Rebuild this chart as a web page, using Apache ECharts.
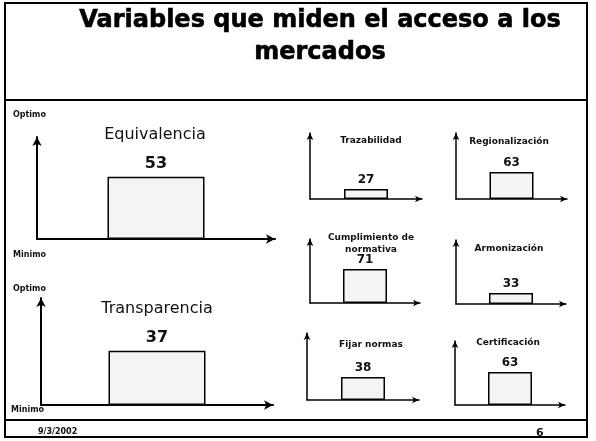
<!DOCTYPE html>
<html>
<head>
<meta charset="utf-8">
<script src="https://cdn.jsdelivr.net/npm/echarts@6/dist/echarts.min.js"></script>
<style>
html, body { margin: 0; background: #fff; }
#chart { width: 596px; height: 441px; }
</style>
</head>
<body>
<div id="chart"></div>
<script>
// Datos de la diapositiva
const categorias = ['Equivalencia', 'Transparencia', 'Trazabilidad', 'Regionalización',
  'Cumplimiento de\nnormativa', 'Armonización', 'Fijar normas', 'Certificación'];
const valores = [53, 37, 27, 63, 71, 33, 38, 63];
// escala de cada mini gráfico (no es la misma en todos)
const ejeMax = [87, 73, 178, 154, 134, 192, 111, 122];
const extremos = ['Optimo', 'Minimo'];
const titulo = 'Variables que miden el acceso a los\nmercados';
const fecha = '9/3/2002';
const pagina = '6';

// Cajas de cada gráfico: [x izq, y sup, x der, y inf]
const cajas = [
  [37, 137, 275, 239],
  [41, 298, 273, 405],
  [310, 133, 422, 199],
  [456, 133, 567, 199],
  [310, 239, 420, 303],
  [456, 240, 566, 304],
  [307, 333, 419, 400],
  [455, 341, 565, 405]
];
// posición de los títulos [x centro, y centro]
const posTitulos = [
  [155, 135], [157, 309],
  [371, 141], [509, 142],
  [371, 244], [509, 249],
  [371, 345], [508, 343]
];

const chart = echarts.init(document.getElementById('chart'));
const FUENTE = '"DejaVu Sans", Verdana, sans-serif';

const grids = [], xAxes = [], yAxes = [], series = [];
const graficos = [];

cajas.forEach((c, i) => {
  const grande = i < 2;
  const ancho = grande ? 2 : 1.5;
  grids.push({ left: c[0], top: c[1], width: c[2] - c[0], height: c[3] - c[1] });
  xAxes.push({
    type: 'category', gridIndex: i, data: [categorias[i]],
    axisLine: { lineStyle: { color: '#000', width: ancho }, symbol: ['none', 'arrow'], symbolSize: grande ? [7, 9] : [5, 7] },
    axisTick: { show: false }, axisLabel: { show: false }
  });
  yAxes.push({
    type: 'value', gridIndex: i, min: 0, max: ejeMax[i],
    axisLine: { show: true, lineStyle: { color: '#000', width: ancho }, symbol: ['none', 'arrow'], symbolSize: grande ? [7, 9] : [5, 7] },
    axisTick: { show: false }, axisLabel: { show: false }, splitLine: { show: false }
  });
  series.push({
    type: 'bar', xAxisIndex: i, yAxisIndex: i, data: [valores[i]],
    barWidth: grande ? 97 : 44,
    itemStyle: { color: '#f4f4f4', borderColor: '#000', borderWidth: 1.5 },
    label: {
      show: true, position: 'top', distance: grande ? 5 : 3,
      fontFamily: FUENTE, fontWeight: 'bold', fontSize: grande ? 16 : 12, color: '#111'
    }
  });
  graficos.push({
    type: 'text', x: posTitulos[i][0], y: posTitulos[i][1],
    style: {
      text: categorias[i], fontFamily: FUENTE,
      fontSize: grande ? 16 : 9, fontWeight: grande ? 'normal' : 'bold',
      lineHeight: grande ? 18 : 12,
      align: 'center', verticalAlign: 'middle', fill: '#111'
    }
  });
});

const textoPeq = (t, x, y) => ({
  type: 'text', x: x, y: y,
  style: { text: t, fontFamily: FUENTE, fontSize: 8, fontWeight: 'bold', fill: '#111', verticalAlign: 'middle' }
});

const option = {
  animation: false,
  backgroundColor: '#fff',
  grid: grids,
  xAxis: xAxes,
  yAxis: yAxes,
  series: series,
  graphic: [
    // marco de la diapositiva
    { type: 'rect', shape: { x: 5, y: 3, width: 582, height: 434 }, style: { fill: 'none', stroke: '#000', lineWidth: 2 } },
    { type: 'line', shape: { x1: 5, y1: 100, x2: 587, y2: 100 }, style: { stroke: '#000', lineWidth: 2 } },
    { type: 'line', shape: { x1: 5, y1: 420, x2: 587, y2: 420 }, style: { stroke: '#000', lineWidth: 2 } },
    {
      type: 'text', x: 320, y: 37,
      style: {
        text: titulo, fontFamily: FUENTE, fontSize: 24, fontWeight: 'bold', lineHeight: 32,
        align: 'center', verticalAlign: 'middle', fill: '#000',
        stroke: '#000', lineWidth: 0.6
      }
    },
    textoPeq(extremos[0], 13, 115),
    textoPeq(extremos[1], 13, 255),
    textoPeq(extremos[0], 13, 289),
    textoPeq(extremos[1], 11, 410),
    {
      type: 'text', x: 38, y: 432,
      style: { text: fecha, fontFamily: FUENTE, fontSize: 8, fontWeight: 'bold', fill: '#111', verticalAlign: 'middle' }
    },
    {
      type: 'text', x: 536, y: 433,
      style: { text: pagina, fontFamily: FUENTE, fontSize: 11, fontWeight: 'bold', fill: '#111', verticalAlign: 'middle' }
    }
  ].concat(graficos)
};

chart.setOption(option);
</script>
</body>
</html>
